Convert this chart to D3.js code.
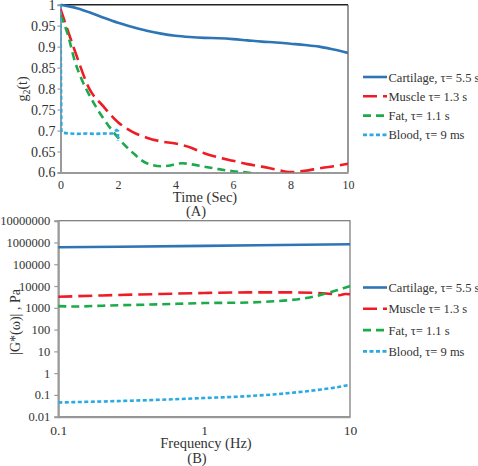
<!DOCTYPE html>
<html><head><meta charset="utf-8">
<script src="https://cdn.jsdelivr.net/npm/d3@7"></script>
<style>body{margin:0;background:#fff}svg{display:block}</style>
</head><body>
<svg id="c" width="478" height="466"></svg>
<script>
// ---- Data: panel A (g2(t) vs time) ----
const tCartilage = [0,0.3,0.6,1,1.5,2,2.5,3,3.5,4,4.5,5,5.5,6,6.5,7,7.5,8,8.5,9,9.5,10];
const gCartilage = [1,0.996,0.991,0.982,0.969,0.957,0.947,0.938,0.931,0.926,0.923,0.921,0.92,0.918,0.915,0.912,0.91,0.907,0.904,0.9,0.893,0.885];
const tMuscle = [0,0.5,1,1.5,2,2.5,3,3.5,4,4.5,5,5.5,6,6.5,7,7.5,8,8.5,9,9.5,10];
const gMuscle = [0.99,0.89,0.8,0.757,0.72,0.697,0.683,0.674,0.669,0.66,0.646,0.636,0.628,0.62,0.614,0.607,0.601,0.604,0.61,0.615,0.621];
const tFat = [0,0.25,0.5,0.75,1,1.5,2,2.5,3,3.5,3.75,4,4.25,4.5,5,5.5,6,6.5,7];
const gFat = [0.975,0.93,0.865,0.82,0.785,0.728,0.683,0.648,0.622,0.615,0.616,0.62,0.622,0.62,0.614,0.608,0.603,0.6,0.595];
const tBlood = [0,0.03,0.05,0.3,0.6,0.9,1.2,1.5,1.8,1.95,2,2];
const gBlood = [1,0.7,0.695,0.693,0.692,0.693,0.692,0.693,0.693,0.701,0.699,0.675];
const xTicksA = [0,2,4,6,8,10];
const yTicksA = [0.6,0.65,0.7,0.75,0.8,0.85,0.9,0.95,1];

// ---- Data: panel B (|G*| vs frequency) ----
const fCartilage = [0.1,1,10];
const GCartilage = [600000,700000,830000];
const fMuscle = [0.1,0.2,0.5,1,2,4,6,7.5,8.5,9.3,10];
const GMuscle = [3200,3700,4300,4800,5100,5100,4800,4300,3800,4300,4200];
const fFat = [0.1,0.13,0.2,0.5,1,2,3,4,5,6,7,8,9,10];
const GFat = [1200,1150,1250,1450,1650,1750,2000,2300,2800,3600,4800,6200,8000,10000];
const fBlood = [0.1,0.2,0.5,1,2,4,6,8,10];
const GBlood = [0.045,0.05,0.06,0.072,0.088,0.125,0.17,0.22,0.29];
const xTicksB = [0.1,1,10];
const yTicksB = [0.01,0.1,1,10,100,1000,10000,100000,1000000,10000000];

const legendLabels = ["Cartilage, \u03c4= 5.5 s","Muscle \u03c4= 1.3 s","Fat, \u03c4= 1.1 s","Blood,  \u03c4= 9 ms"];
const colors = ["#2E75B6","#EE1C25","#1DAA4B","#29ABE2"];
const dashes = [null,"14,6","8,5","4,2.5"];

const FONT = '"Liberation Serif"';
const TXT = "#333";
const svg = d3.select("#c");
const AXC = "#9a9a9a";

function addText(x,y,s,size,anchor){
  return svg.append("text").attr("x",x).attr("y",y).attr("text-anchor",anchor||"start")
    .style("font-family",FONT).attr("font-size",size).attr("fill",TXT).text(s);
}

// ---------- Panel A ----------
const xA = d3.scaleLinear().domain([0,10]).range([60.5,348]);
const yA = d3.scaleLinear().domain([0.6,1]).range([172.5,4.7]);
svg.append("defs").append("clipPath").attr("id","clipA").append("rect")
  .attr("x",xA(0)).attr("y",yA(1)-2).attr("width",xA(10)-xA(0)).attr("height",yA(0.6)-yA(1)+2);

const gA = svg.append("g");
gA.append("line").attr("x1",xA(0)).attr("x2",xA(10)).attr("y1",yA(1)).attr("y2",yA(1)).attr("stroke","#222").attr("stroke-width",1.5);
gA.append("line").attr("x1",xA(10)).attr("x2",xA(10)).attr("y1",yA(1)).attr("y2",yA(0.6)).attr("stroke","#555").attr("stroke-width",1.2);

const axLA = gA.append("g").attr("transform",`translate(${xA(0)},0)`)
  .call(d3.axisLeft(yA).tickValues(yTicksA).tickSize(3).tickPadding(2).tickFormat(d=>String(+d.toFixed(2))));
const axBA = gA.append("g").attr("transform",`translate(0,${yA(0.6)})`)
  .call(d3.axisBottom(xA).tickValues(xTicksA).tickSize(0).tickPadding(8));
[axLA,axBA].forEach(a=>{a.select(".domain").attr("stroke",AXC).attr("stroke-width",2);
  a.selectAll(".tick line").attr("stroke",AXC).attr("stroke-width",1.2);
  a.selectAll("text").style("font-family",FONT).attr("font-size",14).attr("fill",TXT);});
axBA.selectAll("text").attr("font-size",12);

const lineA = d3.line().x(d=>xA(d[0])).y(d=>yA(d[1])).curve(d3.curveMonotoneX);
const seriesA = [[tCartilage,gCartilage],[tMuscle,gMuscle],[tFat,gFat],[tBlood,gBlood]];
const plotA = gA.append("g").attr("clip-path","url(#clipA)");
seriesA.forEach((s,i)=>{
  const pts = s[0].map((t,j)=>[t,s[1][j]]);
  const ln = i===3 ? d3.line().x(d=>xA(d[0])).y(d=>yA(d[1])) : lineA;
  plotA.append("path").attr("d",ln(pts)).attr("fill","none").attr("stroke",colors[i])
    .attr("stroke-width",2.6).attr("stroke-dasharray",dashes[i]);
});

addText(205,202,"Time (Sec)",14.5,"middle");
addText(196,216,"(A)",14.5,"middle");
const ylA = svg.append("text").attr("transform","translate(27,89) rotate(-90)").attr("text-anchor","middle")
  .style("font-family",FONT).attr("font-size",14).attr("fill",TXT);
ylA.append("tspan").text("g");
ylA.append("tspan").attr("font-size",10).attr("dy",3).text("2");
ylA.append("tspan").attr("dy",-3).text("(t)");

// ---------- Panel B ----------
const xB = d3.scaleLog().domain([0.1,10]).range([58.3,350]);
const yB = d3.scaleLog().domain([0.01,1e7]).range([416.7,220.7]);
const gB = svg.append("g");
gB.append("rect").attr("x",xB(0.1)).attr("y",yB(1e7)).attr("width",xB(10)-xB(0.1)).attr("height",yB(0.01)-yB(1e7))
  .attr("fill","none").attr("stroke","#777").attr("stroke-width",1.2);
const axLB = gB.append("g").attr("transform",`translate(${xB(0.1)},0)`)
  .call(d3.axisLeft(yB).tickValues(yTicksB).tickSize(4).tickPadding(4).tickFormat(d=>d>=1?d3.format("d")(d):String(d)));
const axBB = gB.append("g").attr("transform",`translate(0,${yB(0.01)})`)
  .call(d3.axisBottom(xB).tickValues(xTicksB).tickSize(0).tickPadding(9).tickFormat(d=>String(d)));
[axLB,axBB].forEach(a=>{a.select(".domain").attr("stroke",AXC).attr("stroke-width",2);
  a.selectAll(".tick line").attr("stroke",AXC).attr("stroke-width",1.2);
  a.selectAll("text").style("font-family",FONT).attr("font-size",12.5).attr("fill",TXT);});
axBB.selectAll("text").attr("font-size",13.5);

const lineB = d3.line().x(d=>xB(d[0])).y(d=>yB(d[1])).curve(d3.curveMonotoneX);
const seriesB = [[fCartilage,GCartilage],[fMuscle,GMuscle],[fFat,GFat],[fBlood,GBlood]];
seriesB.forEach((s,i)=>{
  const pts = s[0].map((f,j)=>[f,s[1][j]]);
  gB.append("path").attr("d",lineB(pts)).attr("fill","none").attr("stroke",colors[i])
    .attr("stroke-width",2.6).attr("stroke-dasharray",dashes[i]);
});
addText(206,448,"Frequency (Hz)",14.5,"middle");
addText(197,463,"(B)",14.5,"middle");
svg.append("text").attr("transform","translate(20,322) rotate(-90)").attr("text-anchor","middle")
  .style("font-family",FONT).attr("font-size",14).attr("fill",TXT).text("|G*(\u03c9)| , Pa");

// ---------- Legends ----------
function legend(y0, step){
  const lg = svg.append("g");
  legendLabels.forEach((lab,i)=>{
    const y = y0 + i*step;
    lg.append("line").attr("x1",363).attr("x2",387).attr("y1",y).attr("y2",y)
      .attr("stroke",colors[i]).attr("stroke-width",2.6).attr("stroke-dasharray",dashes[i]);
    lg.append("text").attr("x",388.5).attr("y",y+4.5).style("font-family",FONT)
      .attr("font-size",12.5).attr("fill",TXT).text(lab);
  });
}
legend(77,19.3);
legend(287.5,21.3);
</script>
</body></html>
